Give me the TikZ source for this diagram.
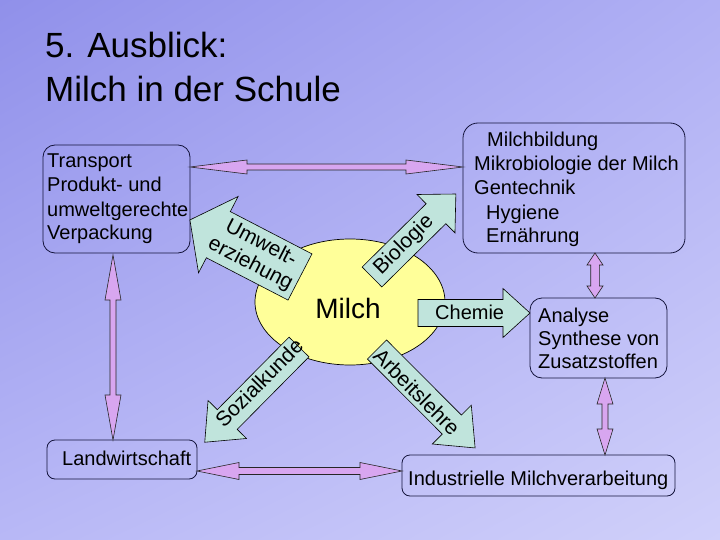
\documentclass[tikz,border=0pt]{standalone}
\usepackage{fontspec}
\setmainfont{Liberation Sans}
\usetikzlibrary{shadings,shapes.geometric}
\definecolor{bgUL}{RGB}{144,144,234}
\definecolor{bgUR}{RGB}{176,176,244}
\definecolor{bgLL}{RGB}{184,184,246}
\definecolor{bgLR}{RGB}{208,208,250}
\definecolor{boxline}{RGB}{20,20,60}
\definecolor{teal1}{RGB}{192,228,220}
\definecolor{lilac1}{RGB}{216,166,240}
\definecolor{milk}{RGB}{255,255,153}
% block arrow: tail x, tail y, angle, length, half body, half head, head length
\newcommand\blockarrow[7]{%
  \begin{scope}[shift={(#1,#2)}, rotate=#3]
    \draw[tealarrow] (0,-#5) -- (#4-#7,-#5) -- (#4-#7,-#6) -- (#4,0) -- (#4-#7,#6) -- (#4-#7,#5) -- (0,#5) -- cycle;
  \end{scope}}
% double arrow: start x, start y, angle, length, half shaft, half head, head length
\newcommand\dblarrow[7]{%
  \begin{scope}[shift={(#1,#2)}, rotate=#3]
    \draw[lilac] (0,0) -- (#7,-#6) -- (#7,-#5) -- (#4-#7,-#5) -- (#4-#7,-#6) -- (#4,0) -- (#4-#7,#6) -- (#4-#7,#5) -- (#7,#5) -- (#7,#6) -- cycle;
  \end{scope}}
\begin{document}
\begin{tikzpicture}[x=1pt,y=-1pt,
  box/.style={draw=boxline, line width=0.8pt, rounded corners=12pt, inner sep=0pt},
  txt/.style={inner sep=0pt, anchor=base west, font=\fontsize{20}{24}\selectfont},
  rtxt/.style={inner sep=0pt, font=\fontsize{21}{23}\selectfont, align=center},
  tealarrow/.style={fill=teal1, draw=black, line width=0.6pt, line join=miter},
  lilac/.style={fill=lilac1, draw=black!85, line width=0.6pt}]
\useasboundingbox (0,0) rectangle (720,540);
\shade[upper left=bgUL, upper right=bgUR, lower left=bgLL, lower right=bgLR] (0,0) rectangle (720,540);

% title
\node[inner sep=0pt, anchor=base west, font=\fontsize{35}{43}\selectfont] (t1) at (45,58) {5. Ausblick:};
\node[inner sep=0pt, anchor=base west, font=\fontsize{35}{43}\selectfont] (t2) at (45,102) {Milch in der Schule};

% boxes
\node[box, minimum width=147pt, minimum height=108pt] (lbox) at (116.5,199) {};
\node[box, minimum width=222pt, minimum height=130pt, rounded corners=15pt] (rbox) at (574,188) {};
\node[box, minimum width=137pt, minimum height=80pt] (abox) at (598.5,338) {};
\node[box, minimum width=150pt, minimum height=39pt, rounded corners=8pt] (lwbox) at (122,459.5) {};
\node[box, minimum width=273pt, minimum height=41pt, rounded corners=8pt] (ibox) at (538.5,475.5) {};

% box texts
\node[txt] (l1) at (47,168) {Transport};
\node[txt] (l2) at (47,192) {Produkt- und};
\node[txt] (l3) at (47,216) {umweltgerechte};
\node[txt] (l4) at (47,240) {Verpackung};

\node[txt] (r1) at (487,147) {Milchbildung};
\node[txt] (r2) at (474,171) {Mikrobiologie der Milch};
\node[txt] (r3) at (474,195) {Gentechnik};
\node[txt] (r4) at (486,219) {Hygiene};
\node[txt] (r5) at (486,243) {Ernährung};

\node[txt] (a1) at (538,322) {Analyse};
\node[txt] (a2) at (538,345) {Synthese von};
\node[txt] (a3) at (538,368) {Zusatzstoffen};

\node[txt] (lw) at (62,465) {Landwirtschaft};
\node[txt] (ind) at (408,485) {Industrielle Milchverarbeitung};

% lilac double arrows
\dblarrow{190}{167}{0}{273}{3}{7}{57}
\dblarrow{113}{255}{-90}{185}{3}{8}{45}
\dblarrow{197}{471}{0}{205}{3.5}{8.5}{42}
\dblarrow{605}{378}{-90}{77}{3}{8}{26}
\dblarrow{595}{253}{-90}{45}{4.3}{8}{12}

% milk ellipse
\node[draw=black, line width=0.7pt, fill=milk, ellipse, minimum width=190pt, minimum height=126pt, inner sep=0pt] (milk) at (350,302) {};
\node[inner sep=0pt, anchor=base, font=\fontsize{28}{30}\selectfont] (milch) at (348,318) {Milch};

% teal block arrows
\blockarrow{300}{277}{152.6}{124}{26}{43}{32}
\blockarrow{372}{277}{44.7}{118}{14}{27}{28}
\blockarrow{299}{347}{225.3}{134}{14}{27}{32}
\blockarrow{377}{349.5}{-45.1}{139}{13.5}{27.5}{33}
\blockarrow{418}{313}{0}{112}{13.5}{24.5}{27}

\node[rtxt, rotate=-27.4] (umw) at (255.6,254) {Umwelt-\\erziehung};
\node[rtxt, rotate=44.7] (bio) at (404,245) {Biologie};
\node[rtxt, rotate=45.3] (soz) at (259,383) {Sozialkunde};
\node[rtxt, rotate=-45.1] (arb) at (417,392) {Arbeitslehre};
\node[txt] (chem) at (435,319) {Chemie};
\end{tikzpicture}
\end{document}
